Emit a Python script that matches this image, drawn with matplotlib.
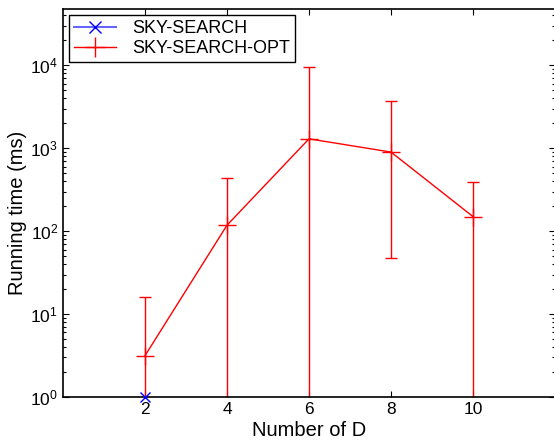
import numpy as np
import matplotlib
matplotlib.use("Agg")
import matplotlib.pyplot as plt
from matplotlib.lines import Line2D
from matplotlib.ticker import LogLocator, NullFormatter

plt.rcParams['font.family'] = ['Liberation Sans', 'DejaVu Sans']
plt.rcParams['mathtext.default'] = 'regular'

# Running time vs. number of dimensions
dims = [2, 4, 6, 8, 10]
sky_dims = [2]
sky_time = [1.0]
opt_time = [3.15, 118, 1300, 900, 150]
opt_upper = [16, 435, 9600, 3700, 390]
opt_lower = [0.1, 0.1, 0.1, 47, 0.1]   # 0.1 -> below the axis floor

opt = np.array(opt_time)
yerr = [opt - np.array(opt_lower), np.array(opt_upper) - opt]

fig = plt.figure(figsize=(5.54, 4.43), dpi=100)
ax = fig.add_axes([63 / 554, 1 - 397 / 443, 492 / 554, 388 / 443])

ax.plot(sky_dims, sky_time, color='blue', marker='x', ms=7, mew=1,
        lw=1, clip_on=False, zorder=5)
ax.errorbar(dims, opt_time, yerr=yerr, color='red', lw=1, marker='+',
            ms=13, mew=1, elinewidth=1, capsize=4, capthick=1)

ax.set_yscale('log')
ax.set_xlim(0, 12)
ax.set_ylim(1, 10 ** 4.68)
ax.set_xticks(dims)
ax.yaxis.set_major_locator(LogLocator(base=10, numticks=10))
ax.yaxis.set_minor_locator(LogLocator(base=10, subs=np.arange(2, 10), numticks=20))
ax.yaxis.set_minor_formatter(NullFormatter())

ax.tick_params(which='both', direction='in', top=True, right=True,
               labelsize=12.5, width=0.8)
ax.tick_params(which='major', length=4)
ax.tick_params(which='minor', length=2.5)
for s in ax.spines.values():
    s.set_linewidth(1.2)

ax.set_xlabel('Number of D', fontsize=14.5, labelpad=3)
ax.set_ylabel('Running time (ms)', fontsize=14.5)
ax.yaxis.set_label_coords(-0.073, 0.474)

handles = [
    Line2D([], [], color='#6666ff', marker='x', ms=9, mew=1, mec='blue', lw=1.5),
    Line2D([], [], color='red', marker='+', ms=14, mew=1, lw=1),
]
leg = ax.legend(handles, ['SKY-SEARCH', 'SKY-SEARCH-OPT'], loc='upper left',
                fontsize=13, fancybox=False, framealpha=1,
                edgecolor='black', borderaxespad=0.35, handlelength=2.3,
                handletextpad=0.9, labelspacing=0.15, borderpad=0.28)
leg.get_frame().set_linewidth(1)

fig.savefig('out.png', dpi=100)
